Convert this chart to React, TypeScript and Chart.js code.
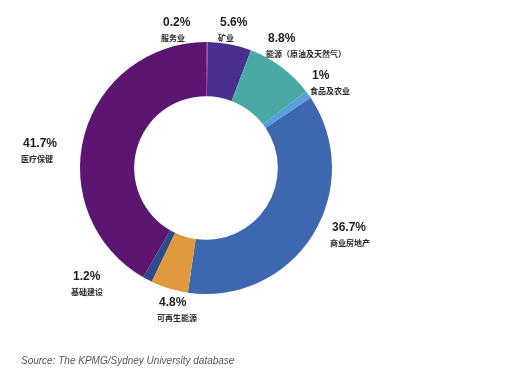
import React, { useEffect, useRef } from "react";
import { Chart, registerables } from "chart.js";

Chart.register(...registerables);

const categories = ["服务业", "矿业", "能源（原油及天然气）", "食品及农业", "商业房地产", "可再生能源", "基础建设", "医疗保健"];
const values = [0.2, 5.6, 8.8, 1, 36.7, 4.8, 1.2, 41.7];
const valueLabels = ["0.2%", "5.6%", "8.8%", "1%", "36.7%", "4.8%", "1.2%", "41.7%"];
const colors = ["#A2379E", "#4A2F8C", "#4AA9A2", "#5A9FDC", "#3D68B0", "#E1993D", "#2E4A8E", "#5D1572"];

// label anchors relative to the doughnut centre (left edge of text block, baseline of percentage)
const labelOffsets: [number, number][] = [
  [-43, -142],
  [14, -142],
  [62, -126],
  [106, -89],
  [126, 63],
  [-47, 138],
  [-133, 112],
  [-183, -21],
];

const labelPlugin = {
  id: "sliceLabels",
  afterDraw(chart: any) {
    const meta = chart.getDatasetMeta(0);
    const ctx = chart.ctx;
    const arc0 = meta.data[0];
    if (!arc0) return;
    const cx = arc0.x;
    const cy = arc0.y;
    ctx.save();
    ctx.textBaseline = "alphabetic";
    ctx.textAlign = "left";
    meta.data.forEach((_: any, i: number) => {
      const [dx, dy] = labelOffsets[i];
      const x = cx + dx;
      const y = cy + dy;
      ctx.fillStyle = "#1e1e1e";
      ctx.font = "bold 12px 'Liberation Sans', Arial, sans-serif";
      ctx.fillText(valueLabels[i], x, y);
      ctx.font = "bold 8px 'Noto Sans CJK SC', sans-serif";
      ctx.fillStyle = "#2a2a2a";
      ctx.fillText(categories[i], x - 2, y + 15);
    });
    ctx.restore();
  },
};

export default function App() {
  const ref = useRef<HTMLCanvasElement | null>(null);
  useEffect(() => {
    if (!ref.current) return;
    const chart = new Chart(ref.current, {
      type: "doughnut",
      data: {
        labels: categories,
        datasets: [
          {
            data: values,
            backgroundColor: colors,
            borderWidth: 0,
          },
        ],
      },
      options: {
        animation: false,
        responsive: false,
        cutout: "57%",
        rotation: 0,
        layout: { padding: { top: 42, bottom: 89, left: 80, right: 178 } },
        plugins: {
          legend: { display: false },
          tooltip: { enabled: false },
        },
      },
      plugins: [labelPlugin],
    });
    return () => chart.destroy();
  }, []);
  return (
    <div style={{ position: "fixed", left: 0, top: 0, width: 510, height: 383, background: "#fff" }}>
      <canvas ref={ref} width={510} height={383} style={{ width: 510, height: 383 }} />
      <div
        style={{
          position: "absolute",
          left: 21,
          top: 355,
          fontFamily: "'Liberation Sans', Arial, sans-serif",
          fontStyle: "italic",
          fontSize: 10,
          color: "#555",
          whiteSpace: "nowrap",
        }}
      >
        Source: The KPMG/Sydney University database
      </div>
    </div>
  );
}
